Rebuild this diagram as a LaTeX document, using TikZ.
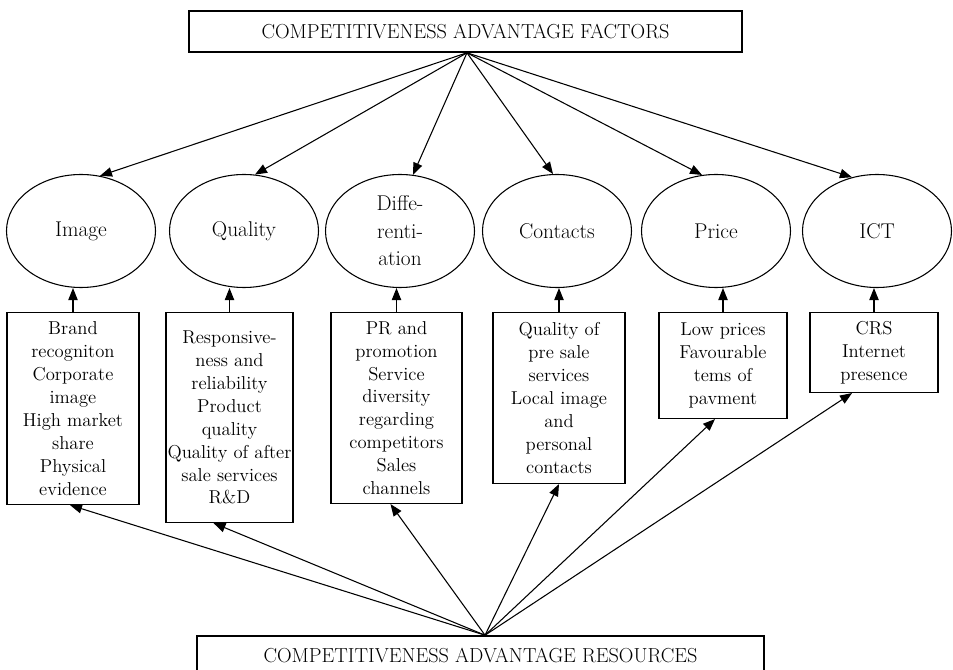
\documentclass[tikz,border=0pt]{standalone}
\usepackage{tikz}
\usetikzlibrary{arrows.meta,shapes.geometric}
\tikzset{
    title-box/.style = {draw, line width=1.2pt, rectangle, minimum width=414.75pt, minimum height=30.75pt, inner sep=0pt, font=\fontsize{15.2}{18}\selectfont},
    factor-oval/.style = {draw, ellipse, minimum width=111.75pt, minimum height=84.75pt, inner sep=0pt, align=center, font=\fontsize{16}{20.6}\selectfont},
    resource-box/.style = {draw, rectangle, anchor=north, inner xsep=0pt, align=center, font=\fontsize{14}{17.2}\selectfont},
    factor-arrow/.style = {-{Triangle[length=9pt,width=7pt]}},
}

\begin{document}
\begin{tikzpicture}[x=0.75pt, y=-0.75pt, line width=0.8pt]
\useasboundingbox (0,0) rectangle (953,670);

\node[title-box] (factors) at (465.5,31.5) {COMPETITIVENESS ADVANTAGE FACTORS};
\node[title-box, minimum width=425.25pt, minimum height=28.5pt] (resources) at (480.5,655) {COMPETITIVENESS ADVANTAGE RESOURCES};

\node[factor-oval] (image) at (81,231) {Image};
\node[factor-oval] (quality) at (244,231) {Quality};
\node[factor-oval] (differ) at (400,231) {Diffe-\\renti-\\ation};
\node[factor-oval] (contacts) at (557,231) {Contacts};
\node[factor-oval] (price) at (716,231) {Price};
\node[factor-oval] (ict) at (877,231) {ICT};

\node[resource-box, minimum width=99pt, minimum height=144pt] (image-box) at (73,312)
    {Brand\\recogniton\\Corporate\\image\\High market\\share\\Physical\\evidence};
\node[resource-box, minimum width=95.25pt, minimum height=157.5pt] (quality-box) at (229.5,312)
    {Responsive-\\ness and\\reliability\\Product\\quality\\Quality of after\\sale services\\R\&D};
\node[resource-box, minimum width=98.25pt, minimum height=143.25pt] (differ-box) at (396.5,312)
    {PR and\\promotion\\Service\\diversity\\regarding\\competitors\\Sales\\channels};
\node[resource-box, minimum width=99pt, minimum height=128.25pt] (contacts-box) at (559,312)
    {Quality of\\pre sale\\services\\Local image\\and\\personal\\contacts};
\node[resource-box, minimum width=96pt, minimum height=79.5pt] (price-box) at (723,312)
    {Low prices\\Favourable\\tems of\\pavment};
\node[resource-box, minimum width=96pt, minimum height=60pt] (ict-box) at (874,312)
    {CRS\\Internet\\presence};

\draw[factor-arrow] ([xshift=1.1pt]factors.south) -- (image.71);
\draw[factor-arrow] ([xshift=1.1pt]factors.south) -- (quality.79);
\draw[factor-arrow] ([xshift=1.1pt]factors.south) -- (differ.77);
\draw[factor-arrow] ([xshift=1.1pt]factors.south) -- (contacts.94);
\draw[factor-arrow] ([xshift=1.1pt]factors.south) -- (price.104);
\draw[factor-arrow] ([xshift=1.1pt]factors.south) -- (ict.115);

\draw[factor-arrow] (image-box.north) -- (image-box.north |- image.south);
\draw[factor-arrow] (quality-box.north) -- (quality-box.north |- quality.south);
\draw[factor-arrow] (differ-box.north) -- (differ-box.north |- differ.south);
\draw[factor-arrow] (contacts-box.north) -- (contacts-box.north |- contacts.south);
\draw[factor-arrow] (price-box.north) -- (price-box.north |- price.south);
\draw[factor-arrow] (ict-box.north) -- (ict-box.north |- ict.south);

\draw[factor-arrow] ([xshift=3.4pt]resources.north) -- ([xshift=-2.25pt]image-box.south);
\draw[factor-arrow] ([xshift=3.4pt]resources.north) -- ([xshift=-12pt]quality-box.south);
\draw[factor-arrow] ([xshift=3.4pt]resources.north) -- ([xshift=-4.5pt]differ-box.south);
\draw[factor-arrow] ([xshift=3.4pt]resources.north) -- (contacts-box.south);
\draw[factor-arrow] ([xshift=3.4pt]resources.north) -- ([xshift=-6pt]price-box.south);
\draw[factor-arrow] ([xshift=3.4pt]resources.north) -- ([xshift=-16.5pt]ict-box.south);
\end{tikzpicture}
\end{document}
